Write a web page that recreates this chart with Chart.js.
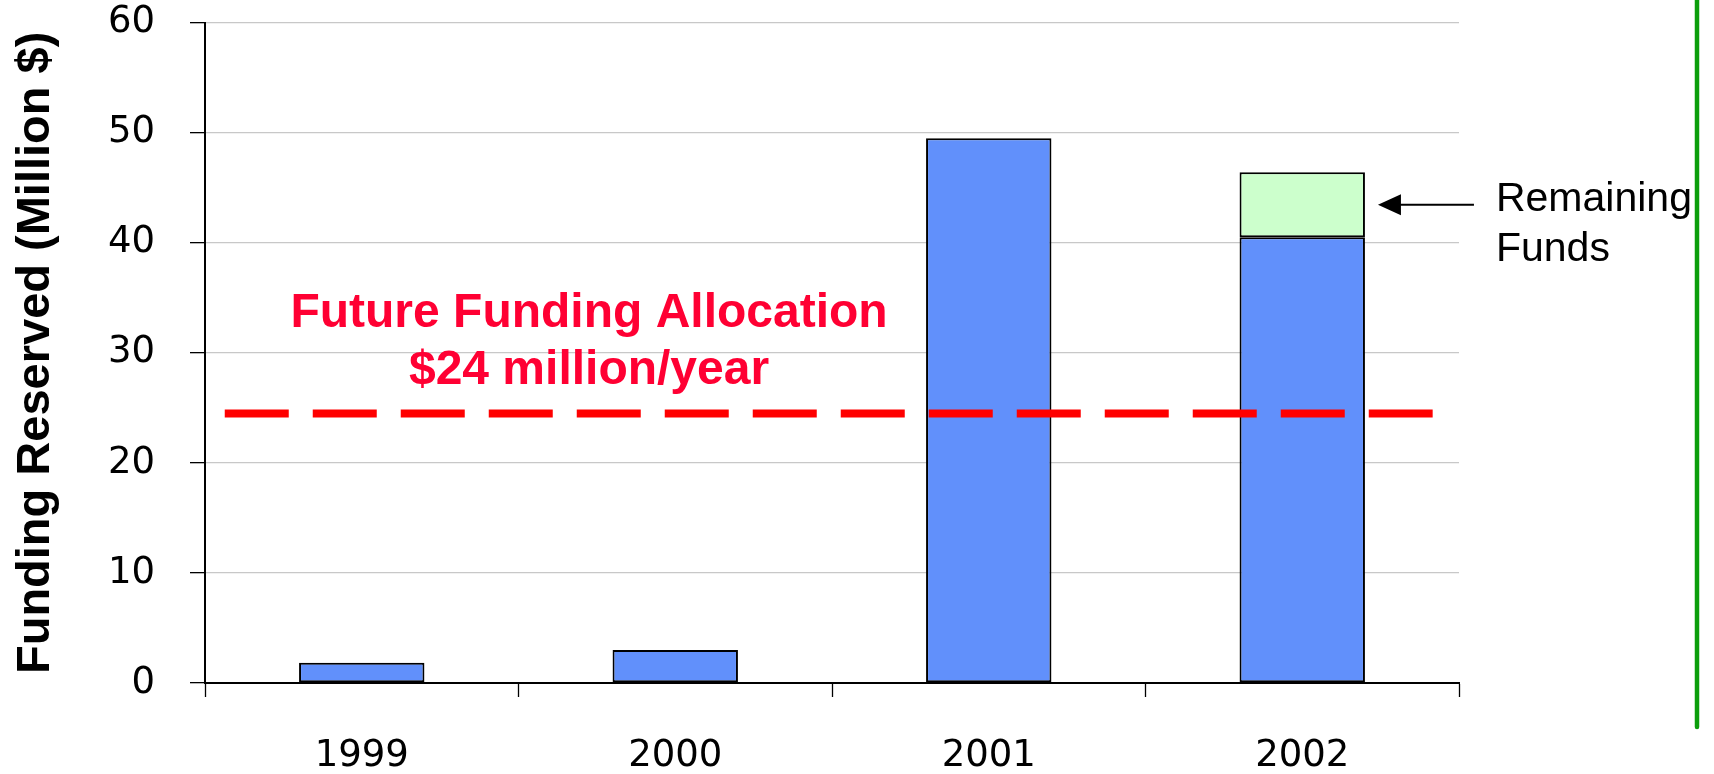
<!DOCTYPE html>
<html lang="en">
<head>
  <meta charset="UTF-8">
  <title>Funding Reserved</title>
  <script src="https://cdn.jsdelivr.net/npm/chart.js"></script>
  <style>
    body {
      margin: 0;
      background: #fff;
    }
    canvas {
      display: block;
    }
  </style>
</head>
<body>
  <canvas id="fundChart" width="1714" height="774"></canvas>

  <script>
    // chart data
    const years = ['1999', '2000', '2001', '2002'];
    const reserved = [1.85, 3.0, 49.5, 40.5];
    const remaining = [null, null, null, 5.9];
    const allocation = 24.5;
    const yMin = 0;
    const yMax = 60;
    const yStep = 10;

    const allocText = ['Future Funding Allocation', '$24 million/year'];
    const remainText = ['Remaining', 'Funds'];

    // draws the dashed allocation line, its label, the arrow and the side rule
    const annotations = {
      id: 'annotations',
      afterDatasetsDraw(chart) {
        const ctx = chart.ctx;
        const xs = chart.scales.x;
        const ys = chart.scales.y;
        const yLine = ys.getPixelForValue(allocation);

        ctx.save();
        ctx.strokeStyle = '#ff0000';
        ctx.lineWidth = 8;
        ctx.setLineDash([64, 24]);
        ctx.beginPath();
        ctx.moveTo(xs.getPixelForValue(-0.437), yLine);
        ctx.lineTo(xs.getPixelForValue(3.416), yLine);
        ctx.stroke();
        ctx.setLineDash([]);

        ctx.fillStyle = '#ff0033';
        ctx.font = 'bold 48px "Liberation Sans", Arial, sans-serif';
        ctx.textAlign = 'center';
        ctx.textBaseline = 'alphabetic';
        const tx = xs.getPixelForValue(0.725);
        ctx.fillText(allocText[0], tx, yLine - 86);
        ctx.fillText(allocText[1], tx, yLine - 29);

        // arrow pointing at the remaining funds
        const bar = chart.getDatasetMeta(1).data[3];
        const ay = ys.getPixelForValue(reserved[3] + remaining[3] / 2);
        const tip = bar.x + bar.width / 2 + 13;
        const tail = tip + 96;
        ctx.strokeStyle = '#000';
        ctx.fillStyle = '#000';
        ctx.lineWidth = 2;
        ctx.beginPath();
        ctx.moveTo(tail, ay);
        ctx.lineTo(tip + 20, ay);
        ctx.stroke();
        ctx.beginPath();
        ctx.moveTo(tip, ay);
        ctx.lineTo(tip + 23, ay - 10.5);
        ctx.lineTo(tip + 23, ay + 10.5);
        ctx.closePath();
        ctx.fill();

        ctx.font = '41px "Liberation Sans", Arial, sans-serif';
        ctx.textAlign = 'left';
        ctx.fillText(remainText[0], tail + 22, ay + 6);
        ctx.fillText(remainText[1], tail + 22, ay + 56);

        // green rule on the right edge
        ctx.strokeStyle = '#0b9e0b';
        ctx.lineWidth = 4.5;
        ctx.lineCap = 'round';
        ctx.beginPath();
        ctx.moveTo(1697, -4);
        ctx.lineTo(1697, 727);
        ctx.stroke();
        ctx.restore();
      }
    };

    const ctx = document.getElementById('fundChart').getContext('2d');
    const tickFont = { family: '"DejaVu Sans", sans-serif', size: 37 };

    new Chart(ctx, {
      type: 'bar',
      data: {
        labels: years,
        datasets: [{
          label: 'Funding Reserved',
          data: reserved,
          backgroundColor: '#6190fb',
          borderColor: '#000',
          borderWidth: 2,
          borderSkipped: false,
          categoryPercentage: 1,
          barPercentage: 0.4
        }, {
          label: 'Remaining Funds',
          data: remaining,
          backgroundColor: '#ccffcc',
          borderColor: '#000',
          borderWidth: 2,
          borderSkipped: false,
          categoryPercentage: 1,
          barPercentage: 0.4
        }]
      },
      options: {
        responsive: false,
        animation: false,
        devicePixelRatio: 1,
        layout: { padding: { top: 22.7, right: 255, left: 0, bottom: 0 } },
        plugins: {
          legend: { display: false },
          tooltip: { enabled: false }
        },
        scales: {
          x: {
            stacked: true,
            grid: { drawOnChartArea: false, offset: true, tickLength: 14, tickColor: '#000', tickWidth: 1.3 },
            border: { color: '#000', width: 2 },
            ticks: { color: '#000', font: tickFont, padding: 37, maxRotation: 0 },
            afterFit: s => { s.height = 91; }
          },
          y: {
            stacked: true,
            min: yMin,
            max: yMax,
            ticks: { stepSize: yStep, padding: 35, color: '#000', font: tickFont },
            grid: { color: '#c8c8c8', lineWidth: 1.3, tickLength: 15, tickColor: '#000', tickWidth: 1.3 },
            border: { color: '#000', width: 2 },
            title: {
              display: true,
              text: 'Funding Reserved (Million $)',
              color: '#000',
              font: { family: '"Liberation Sans", Arial, sans-serif', size: 47, weight: 'bold' },
              padding: { top: 8, bottom: 0 }
            },
            // fixed axis width; drop the label overhang so the plot reaches the top
            afterFit: s => {
              s.width = 205;
              s.paddingTop = 0;
              s.paddingBottom = 0;
            }
          }
        }
      },
      plugins: [annotations]
    });
  </script>
</body>
</html>
